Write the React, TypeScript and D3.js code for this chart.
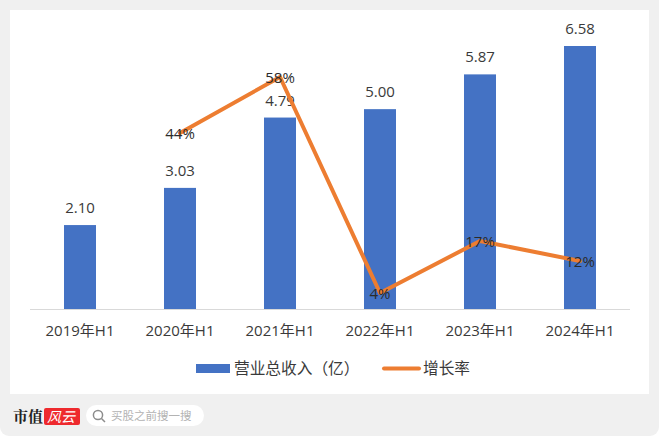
import React from 'react'
import * as d3 from 'd3'

const periods = ['2019年H1', '2020年H1', '2021年H1', '2022年H1', '2023年H1', '2024年H1']
const revenue = [2.10, 3.03, 4.79, 5.00, 5.87, 6.58]
const growthPeriods = periods.slice(1)
const growth = [44, 58, 4, 17, 12]

const width = 660
const height = 437
const font = '"Noto Sans CJK SC", "Open Sans", sans-serif'
const labelFont = '"Open Sans", "Noto Sans CJK SC", sans-serif'
const textColor = '#3a3a3a'

const x = d3.scaleBand<string>().domain(periods).range([30, 630]).paddingInner(0.68).paddingOuter(0.34)
const yBar = d3.scaleLinear().domain([0, 6.58]).range([309, 46])
const yLine = d3.scaleLinear().domain([0, 58]).range([309, 77])
const center = (p: string) => (x(p) || 0) + x.bandwidth() / 2

const line = d3.line<number>()
  .x((_, i) => center(growthPeriods[i]))
  .y(d => yLine(d))

export default function App() {
  return (
    <svg
      width={width}
      height={height}
      viewBox={`0 0 ${width} ${height}`}
      style={{ position: 'fixed', left: 0, top: 0, display: 'block' }}
    >
      <rect x={0} y={0} width={width} height={height} fill="#fff" />
      <rect x={0} y={-10} width={width - 1} height={height + 9} rx={9} fill="#f0f0f0" />
      <rect x={10} y={10} width={639} height={384} fill="#fff" />

      {periods.map((p, i) => (
        <g key={p}>
          <rect
            x={x(p)}
            y={yBar(revenue[i])}
            width={x.bandwidth()}
            height={yBar(0) - yBar(revenue[i])}
            fill="#4472c4"
          />
          <text x={center(p)} y={yBar(revenue[i]) - 12} textAnchor="middle" fontFamily={labelFont} fontSize={15} fill={textColor}>
            {revenue[i].toFixed(2)}
          </text>
          <text x={center(p)} y={336} textAnchor="middle" fontFamily={labelFont} fontSize={15} fill={textColor}>
            {p}
          </text>
        </g>
      ))}

      <line x1={30} x2={630} y1={309.5} y2={309.5} stroke="#d9d9d9" strokeWidth={1} />

      <path d={line(growth) || ''} fill="none" stroke="#ed7d31" strokeWidth={4} strokeLinecap="round" strokeLinejoin="round" />
      {growthPeriods.map((p, i) => (
        <text key={p} x={center(p)} y={yLine(growth[i]) + 6} textAnchor="middle" fontFamily={labelFont} fontSize={15} fill="#2b2b2b">
          {growth[i]}%
        </text>
      ))}

      {/* legend */}
      <rect x={196} y={364} width={34} height={9} fill="#4472c4" />
      <text x={234} y={374} fontFamily={font} fontSize={15.7} fill={textColor}>营业总收入（亿）</text>
      <line x1={384} x2={419} y1={368.5} y2={368.5} stroke="#ed7d31" strokeWidth={4} strokeLinecap="round" />
      <text x={423} y={374} fontFamily={font} fontSize={15.7} fill={textColor}>增长率</text>

      {/* footer logo and search box */}
      <text x={13} y={422} fontFamily='"Noto Serif CJK SC", "Noto Sans CJK SC", serif' fontWeight={700} fontSize={15} fill="#222">市值</text>
      <rect x={44} y={408} width={36} height={17} rx={2} fill="#ee2a2e" />
      <text x={47} y={422} fontFamily={font} fontStyle="italic" fontSize={14} fill="#fff">风云</text>
      <rect x={86} y={405} width={118} height={21} rx={10.5} fill="#fff" />
      <circle cx={98} cy={415} r={4.6} fill="none" stroke="#8c8c8c" strokeWidth={1.5} />
      <line x1={101.5} y1={418.5} x2={105} y2={422} stroke="#8c8c8c" strokeWidth={1.5} />
      <text x={111} y={420} fontFamily={font} fontSize={11.5} fill="#b3b3b3">买股之前搜一搜</text>
    </svg>
  )
}
